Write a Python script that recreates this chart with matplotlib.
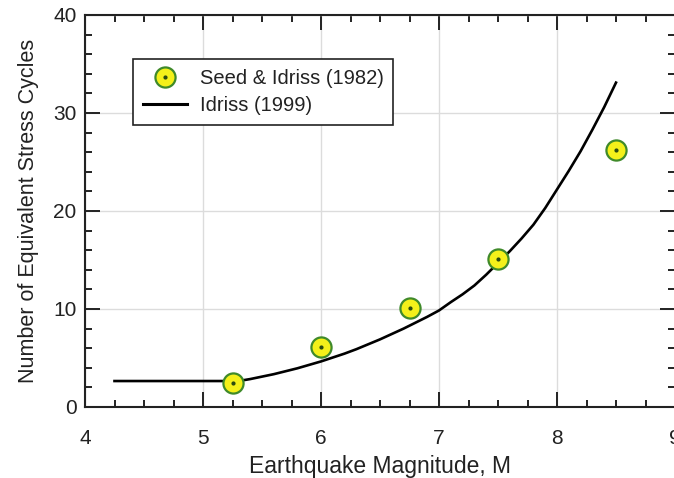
import matplotlib
matplotlib.use('Agg')
import matplotlib.pyplot as plt
from matplotlib.ticker import MultipleLocator
from matplotlib.legend_handler import HandlerTuple

plt.rcParams['font.family'] = ['Liberation Sans', 'DejaVu Sans']

# Seed & Idriss (1982) points
seed_m = [5.25, 6.0, 6.75, 7.5, 8.5]
seed_n = [2.5, 6.1, 10.1, 15.1, 26.2]

# Idriss (1999) curve
idriss_m = [4.25, 5.3, 5.4, 5.5, 5.6, 5.7, 5.8, 5.9, 6.0, 6.1, 6.2, 6.3, 6.4, 6.5,
            6.6, 6.7, 6.8, 6.9, 7.0, 7.1, 7.2, 7.3, 7.4, 7.5, 7.6, 7.7, 7.8, 7.9,
            8.0, 8.1, 8.2, 8.3, 8.4, 8.5]
idriss_n = [2.65, 2.65, 2.85, 3.1, 3.35, 3.65, 3.95, 4.3, 4.65, 5.05, 5.45, 5.9, 6.4, 6.9,
            7.45, 8.0, 8.6, 9.2, 9.85, 10.7, 11.5, 12.4, 13.5, 14.7, 15.9, 17.2, 18.6, 20.3,
            22.2, 24.1, 26.1, 28.3, 30.6, 33.1]

fig = plt.figure(figsize=(6.74, 4.78), dpi=100)
ax = fig.add_axes([85/674, 71/478, 590/674, 392/478])

ax.plot(idriss_m, idriss_n, color='black', lw=1.9, zorder=3, solid_joinstyle='round')
pts, = ax.plot(seed_m, seed_n, 'o', ms=14.5, mfc='#f4f01a', mec='#3f8a2a', mew=1.6, ls='none', zorder=4)
dots, = ax.plot(seed_m, seed_n, 'o', ms=2, color='#2a4a10', ls='none', zorder=5)
line, = ax.plot([], [], color='black', lw=2.2)

ax.set_xlim(4, 9)
ax.set_ylim(0, 40)
ax.xaxis.set_major_locator(MultipleLocator(1))
ax.xaxis.set_minor_locator(MultipleLocator(0.25))
ax.yaxis.set_major_locator(MultipleLocator(10))
ax.yaxis.set_minor_locator(MultipleLocator(2))
ax.tick_params(which='both', direction='in', top=True, right=True, width=1.4, color='#222222')
ax.tick_params(which='major', length=11, labelsize=15, labelcolor='#222222', pad=6)
ax.tick_params(axis='x', which='major', pad=16)
ax.tick_params(which='minor', length=5)
ax.grid(True, which='major', color='#dcdcdc', lw=1.0, zorder=0)
for s in ax.spines.values():
    s.set_linewidth(1.5)
    s.set_color('#222222')

ax.set_xlabel('Earthquake Magnitude, M', fontsize=16.5, color='#222222', labelpad=5)
ax.set_ylabel('Number of Equivalent Stress Cycles', fontsize=15.5, color='#222222', labelpad=10)

leg = ax.legend([(pts, dots), line], ['Seed & Idriss (1982)', 'Idriss (1999)'],
                handler_map={tuple: HandlerTuple(ndivide=1, pad=0)},
                loc='upper left', bbox_to_anchor=(38/590, 1 - 34/392),
                fontsize=14.5, fancybox=False, framealpha=1, edgecolor='#222222',
                handlelength=2.2, handletextpad=0.6, borderpad=0.5, labelspacing=0.4)
leg.get_frame().set_linewidth(1.2)
for t in leg.get_texts():
    t.set_color('#222222')

fig.savefig('out.png', dpi=100)
